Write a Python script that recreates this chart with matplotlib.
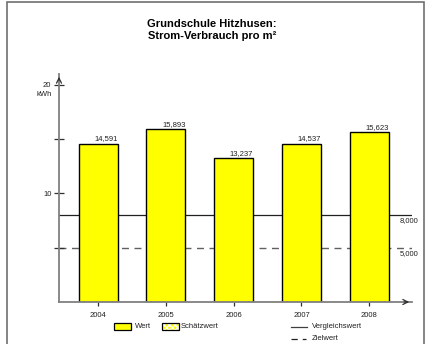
import matplotlib
matplotlib.use("Agg")
import matplotlib.pyplot as plt
from matplotlib.patches import Rectangle
from matplotlib.lines import Line2D

years = ["2004", "2005", "2006", "2007", "2008"]
wert = [14.591, 15.893, 13.237, 14.537, 15.623]
vergleichswert = 8.0
zielwert = 5.0

W, H = 425, 344
plt.rcParams["font.family"] = ["Liberation Sans", "DejaVu Sans"]
plt.rcParams["hatch.linewidth"] = 1.0

fig = plt.figure(figsize=(W / 100, H / 100), dpi=100)


def fx(px):
    return px / W


def fy(py):
    return 1 - py / H


# outer frame
fig.add_artist(Rectangle((fx(7), fy(346)), fx(417), 1, transform=fig.transFigure,
                         fill=False, edgecolor="#707070", linewidth=1.2))

fig.text(fx(212), fy(30), "Grundschule Hitzhusen:\nStrom-Verbrauch pro m²",
         ha="center", va="center", fontsize=8, fontweight="bold", linespacing=1.2)

ax = fig.add_axes([fx(59), fy(302), fx(412 - 59), (302 - 74) / H])
x = list(range(len(years)))
ax.set_xlim(-0.576, 4.63)
ax.set_ylim(0, 21)

grey = "#808080"
ax.axhline(vergleichswert, color="#202020", linewidth=0.9, zorder=1)
ax.axhline(zielwert, color="#606060", linewidth=1.0, dashes=(5, 4), zorder=1)
ax.bar(x, wert, width=0.576, color="#ffff00", edgecolor="#000000", linewidth=1.0, zorder=2)

for xi, v in zip(x, wert):
    ax.text(xi + 0.288, v + 0.15, f"{v:.3f}".replace(".", ","), ha="right", va="bottom",
            fontsize=5.5, color="#202020")

ax.text(4.45, vergleichswert - 0.2, f"{vergleichswert:.3f}".replace(".", ","),
        ha="left", va="top", fontsize=5.5, color="#202020")
ax.text(4.45, zielwert - 0.2, f"{zielwert:.3f}".replace(".", ","),
        ha="left", va="top", fontsize=5.5, color="#202020")

for s in ["top", "right"]:
    ax.spines[s].set_visible(False)
for s in ["left", "bottom"]:
    ax.spines[s].set_color(grey)
    ax.spines[s].set_linewidth(1.3)

# axis arrows
ax.annotate("", xy=(1.0, 0), xytext=(0.97, 0), xycoords="axes fraction",
            arrowprops=dict(arrowstyle="->", color="#303030", lw=0.9,
                            mutation_scale=9), annotation_clip=False)
ax.annotate("", xy=(0, 1.0), xytext=(0, 0.96), xycoords="axes fraction",
            arrowprops=dict(arrowstyle="->", color="#303030", lw=0.9,
                            mutation_scale=9), annotation_clip=False)

ax.set_yticks([5, 10, 15, 20])
ax.set_yticklabels(["", "10", "", "20"])
ax.tick_params(axis="y", direction="inout", length=7, width=0.9, color="#303030",
               labelsize=5.5, pad=2, labelcolor="#202020")
ax.set_xticks(x)
ax.set_xticklabels(years)
ax.tick_params(axis="x", direction="out", length=3, width=0.9, color="#303030",
               labelsize=5.5, pad=4, labelcolor="#202020")
ax.text(-0.02, 20 - 0.6, "kWh", transform=ax.get_yaxis_transform(), ha="right",
        va="top", fontsize=5.5, color="#202020")
ax.set_facecolor("none")

# legend, drawn by hand
fig.add_artist(Rectangle((fx(114), fy(330)), fx(17), 7 / H, transform=fig.transFigure,
                         facecolor="#ffff00", edgecolor="black", linewidth=0.9))
fig.text(fx(135), fy(327), "Wert", ha="left", va="center", fontsize=5.5, color="#202020")
fig.add_artist(Rectangle((fx(162), fy(330)), fx(17), 7 / H, transform=fig.transFigure,
                         facecolor="#ffff00", edgecolor="white", hatch="xxxxxx", linewidth=0.5))
fig.add_artist(Rectangle((fx(162), fy(330)), fx(17), 7 / H, transform=fig.transFigure,
                         fill=False, edgecolor="black", linewidth=0.9))
fig.text(fx(181), fy(327), "Schätzwert", ha="left", va="center", fontsize=5.5, color="#202020")
fig.add_artist(Line2D([fx(291), fx(307)], [fy(327), fy(327)], transform=fig.transFigure,
                      color="#404040", linewidth=0.9))
fig.text(fx(312), fy(327), "Vergleichswert", ha="left", va="center", fontsize=5.5,
         color="#202020")
fig.add_artist(Line2D([fx(291), fx(306)], [fy(339), fy(339)], transform=fig.transFigure,
                      color="#202020", linewidth=0.9, dashes=(5, 4)))
fig.text(fx(312), fy(339), "Zielwert", ha="left", va="center", fontsize=5.5,
         color="#202020")

fig.savefig("out.png", dpi=100)
